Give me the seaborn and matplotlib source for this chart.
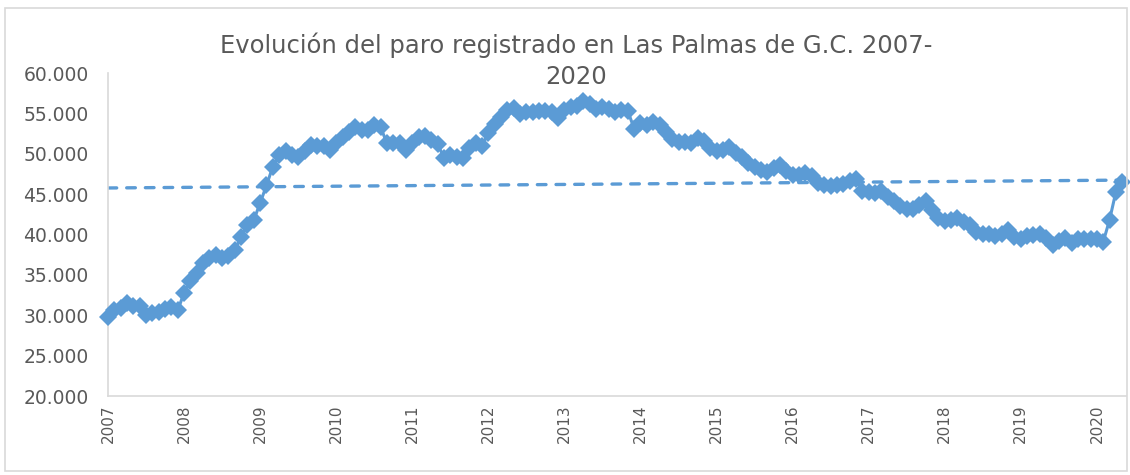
import numpy as np
import pandas as pd
import matplotlib
matplotlib.use("Agg")
import matplotlib.pyplot as plt
from matplotlib.patches import Rectangle
from matplotlib.ticker import FuncFormatter
import seaborn as sns

# Paro registrado mensual, Las Palmas de G.C. (enero 2007 - mayo 2020)
paro_2007 = [29800, 30600, 30900, 31500, 31100, 31200, 30000, 30300, 30400, 30800, 31000, 30600]
paro_2008 = [32800, 34200, 35200, 36500, 37100, 37500, 37100, 37300, 38100, 39700, 41200, 41800]
paro_2009 = [43900, 46100, 48400, 49800, 50300, 49800, 49600, 50300, 51100, 50900, 50900, 50500]
paro_2010 = [51300, 52100, 52700, 53300, 52900, 52900, 53600, 53300, 51300, 51300, 51300, 50500]
paro_2011 = [51300, 52100, 52200, 51700, 51200, 49500, 49800, 49600, 49500, 50700, 51300, 51000]
paro_2012 = [52600, 53700, 54600, 55400, 55700, 54900, 55200, 55200, 55300, 55300, 55200, 54400]
paro_2013 = [55400, 55800, 55900, 56500, 56200, 55500, 55800, 55500, 55200, 55400, 55300, 53100]
paro_2014 = [53800, 53600, 53900, 53600, 52700, 51800, 51500, 51400, 51300, 51900, 51600, 50700]
paro_2015 = [50300, 50500, 50800, 50100, 49600, 48800, 48400, 48000, 47800, 48200, 48600, 47900]
paro_2016 = [47400, 47400, 47600, 47200, 46400, 46100, 46000, 46100, 46300, 46600, 46900, 45400]
paro_2017 = [45300, 45100, 45400, 44700, 44100, 43500, 43100, 43100, 43700, 44100, 43000, 42000]
paro_2018 = [41700, 41800, 42000, 41600, 41200, 40300, 40100, 40100, 39800, 40100, 40600, 39700]
paro_2019 = [39500, 39800, 39900, 40100, 39600, 38700, 39200, 39600, 38900, 39500, 39500, 39500]
paro_2020 = [39500, 39100, 41800, 45300, 46500]

years = list(range(2007, 2021))
year_labels = [str(y) for y in years]

series = [paro_2007, paro_2008, paro_2009, paro_2010, paro_2011, paro_2012, paro_2013,
          paro_2014, paro_2015, paro_2016, paro_2017, paro_2018, paro_2019, paro_2020]
values = [v for s in series for v in s]
df = pd.DataFrame({"mes": np.arange(len(values)), "paro": values})

blue = "#5B9BD5"
gray_txt = "#595959"
gray_line = "#D9D9D9"

sns.set_style("white")
plt.rcParams["font.family"] = ["DejaVu Sans"]

fig = plt.figure(figsize=(11.3, 4.75), dpi=100)
ax = fig.add_axes([0.0956, 0.1663, 0.9009, 0.68])

# serie mensual
sns.lineplot(data=df, x="mes", y="paro", ax=ax, color=blue, linewidth=2.2,
             marker="D", markersize=9.5, markeredgewidth=0, zorder=3, clip_on=False)

# linea de tendencia lineal
sns.regplot(data=df, x="mes", y="paro", ax=ax, scatter=False, ci=None,
            line_kws=dict(color=blue, linewidth=2.4, dashes=(2.6, 3.0),
                          dash_capstyle="round", zorder=2))

ax.set_ylim(20000, 60000)
ax.set_xlim(0, len(values) - 0.4)
ax.set_yticks(range(20000, 60001, 5000))
ax.yaxis.set_major_formatter(FuncFormatter(lambda v, p: f"{int(v):,}".replace(",", ".")))
ax.set_xticks(range(0, len(values), 12))
ax.set_xticklabels(year_labels, rotation=90)
ax.set_xlabel("")
ax.set_ylabel("")

ax.tick_params(axis="y", length=0, pad=14, labelsize=13.5, labelcolor=gray_txt)
ax.tick_params(axis="x", length=0, pad=6, labelsize=11, labelcolor=gray_txt)

for side in ["top", "right"]:
    ax.spines[side].set_visible(False)
for side in ["left", "bottom"]:
    ax.spines[side].set_color(gray_line)
    ax.spines[side].set_linewidth(1.2)
ax.grid(False)

fig.text(0.51, 0.872, "Evolución del paro registrado en Las Palmas de G.C. 2007-\n2020",
         ha="center", va="center", fontsize=17.5, color=gray_txt, linespacing=1.4)

# borde del area del grafico
fig.patches.append(Rectangle((0.004, 0.008), 0.993, 0.975, transform=fig.transFigure,
                             fill=False, edgecolor=gray_line, linewidth=1.2))

fig.savefig("out.png", dpi=100)
